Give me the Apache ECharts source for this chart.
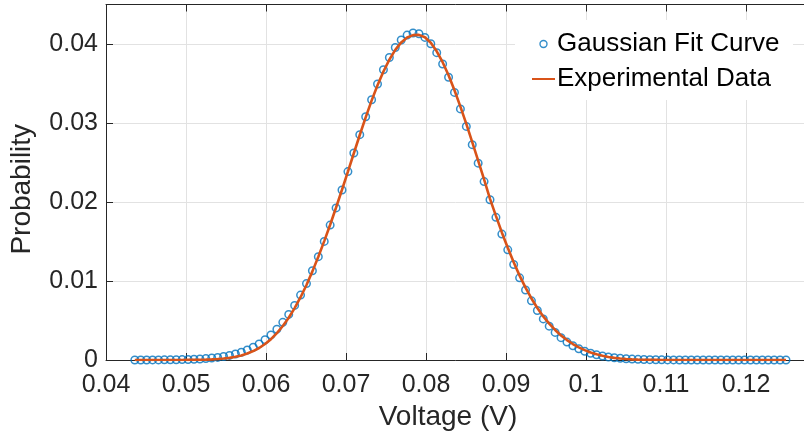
<!DOCTYPE html>
<html>
<head>
<meta charset="utf-8">
<script src="https://cdn.jsdelivr.net/npm/echarts@6/dist/echarts.min.js"></script>
<style>html,body{margin:0;padding:0;background:#fff;}#c{width:804px;height:438px;}</style>
</head>
<body>
<div id="c"></div>
<script>
var voltage = [0.04360,0.04434,0.04508,0.04582,0.04656,0.04730,0.04804,0.04878,0.04952,0.05026,
0.05100,0.05174,0.05248,0.05322,0.05396,0.05470,0.05544,0.05618,0.05692,0.05766,
0.05840,0.05914,0.05988,0.06062,0.06136,0.06210,0.06284,0.06358,0.06432,0.06506,
0.06580,0.06654,0.06728,0.06802,0.06876,0.06950,0.07024,0.07098,0.07172,0.07246,
0.07320,0.07394,0.07468,0.07542,0.07616,0.07690,0.07764,0.07838,0.07912,0.07986,
0.08060,0.08134,0.08208,0.08282,0.08356,0.08430,0.08504,0.08578,0.08652,0.08726,
0.08800,0.08874,0.08948,0.09022,0.09096,0.09170,0.09244,0.09318,0.09392,0.09466,
0.09540,0.09614,0.09688,0.09762,0.09836,0.09910,0.09984,0.10058,0.10132,0.10206,
0.10280,0.10354,0.10428,0.10502,0.10576,0.10650,0.10724,0.10798,0.10872,0.10946,
0.11020,0.11094,0.11168,0.11242,0.11316,0.11390,0.11464,0.11538,0.11612,0.11686,
0.11760,0.11834,0.11908,0.11982,0.12056,0.12130,0.12204,0.12278,0.12352,0.12426,
0.12500];

var gaussianFit = [0.000002,0.000004,0.000005,0.000008,0.000012,0.000017,0.000024,0.000035,0.000049,0.000069,
0.000096,0.000133,0.000182,0.000246,0.000330,0.000440,0.000581,0.000761,0.000986,0.001268,
0.001616,0.002041,0.002558,0.003175,0.003908,0.004765,0.005767,0.006914,0.008214,0.009675,
0.011302,0.013082,0.015012,0.017073,0.019255,0.021524,0.023851,0.026198,0.028525,0.030789,
0.032942,0.034937,0.036734,0.038287,0.039554,0.040510,0.041127,0.041391,0.041292,0.040837,
0.040034,0.038904,0.037475,0.035786,0.033873,0.031787,0.029568,0.027262,0.024919,0.022580,
0.020278,0.018059,0.015935,0.013944,0.012093,0.010396,0.008860,0.007485,0.006268,0.005204,
0.004281,0.003495,0.002826,0.002265,0.001799,0.001418,0.001107,0.000857,0.000657,0.000500,
0.000377,0.000282,0.000209,0.000153,0.000112,0.000081,0.000058,0.000041,0.000029,0.000020,
0.000014,0.000010,0.000006,0.000004,0.000003,0.000002,0.000001,0.000001,0.000001,0.000001,
0.000001,0,0,0,0,0,0,0,0,0,
0];

var experimental = [0,0,0,0,0,0,0,0,0,0.00001,
0.00002,0.00003,0.00005,0.00008,0.00012,0.00018,0.00027,0.00040,0.00058,0.00082,
0.00113,0.00152,0.00202,0.00264,0.00340,0.00430,0.00535,0.00657,0.00795,0.00950,
0.01122,0.01308,0.01505,0.01712,0.01930,0.02155,0.02385,0.02617,0.02848,0.03072,
0.03283,0.03478,0.03652,0.03802,0.03925,0.04020,0.04082,0.04112,0.04115,0.04085,
0.04015,0.03908,0.03770,0.03605,0.03415,0.03208,0.02988,0.02758,0.02525,0.02285,
0.02040,0.01825,0.01615,0.01420,0.01237,0.01068,0.00916,0.00779,0.00658,0.00552,
0.00460,0.00380,0.00311,0.00252,0.00202,0.00160,0.00125,0.00096,0.00073,0.00054,
0.00039,0.00027,0.00018,0.00012,0.00008,0.00005,0.00003,0.00002,0.00001,0,
0,0,0,0,0,0,0,0,0,0,
0,0,0,0,0,0,0,0,0,0,
0];

var xTicks = [0.04,0.05,0.06,0.07,0.08,0.09,0.1,0.11,0.12];
var yTicks = [0,0.01,0.02,0.03,0.04];
var seriesNames = ['Gaussian Fit Curve','Experimental Data'];

function pairs(xs, ys){ var out=[]; for (var i=0;i<xs.length;i++) out.push([xs[i], ys[i]]); return out; }
function tickFmt(list){ return function(v){ for (var i=0;i<list.length;i++) if (Math.abs(v-list[i])<1e-9) return String(list[i]); return ''; }; }

var FONT = '"Liberation Sans", Arial, Helvetica, sans-serif';
var TXT = '#262626';
var chart = echarts.init(document.getElementById('c'), null, {renderer:'canvas'});
chart.setOption({
  animation: false,
  backgroundColor: '#fff',
  textStyle: {fontFamily: FONT},
  grid: {left: 106, top: 4.5, width: 720, height: 355.5, containLabel: false, outerBoundsMode: 'none'},
  graphic: [{type:'rect', left: 515, top: 20, shape:{width: 278, height: 80}, style:{fill:'#fff'}, z: 1, silent: true}],
  legend: {
    data: [
      {name: seriesNames[0]},
      {name: seriesNames[1], itemStyle: {color: 'rgba(0,0,0,0)', borderWidth: 0, opacity: 0}}
    ],
    orient: 'vertical', left: 531, top: 31, padding: 0,
    itemWidth: 23, itemHeight: 7, itemGap: 9, selectedMode: false,
    itemStyle: {borderWidth: 1.4},
    textStyle: {fontSize: 26, color: '#000', fontFamily: FONT, padding: [0, 0, 0, -3]}
  },
  xAxis: [{
    type: 'value', min: 0.04, max: 0.13, interval: 0.01,
    name: 'Voltage (V)', nameLocation: 'middle', nameGap: 40,
    nameTextStyle: {fontSize: 28, color: TXT, fontFamily: FONT, padding: [0, 36, 0, 0]},
    axisLine: {show: true, onZero: false, lineStyle: {color: TXT, width: 1}},
    axisTick: {show: true, inside: true, length: 7, lineStyle: {color: TXT}},
    axisLabel: {fontSize: 25, color: TXT, margin: 13, fontFamily: FONT, formatter: tickFmt(xTicks)},
    splitLine: {show: true, lineStyle: {color: '#e2e2e2', width: 1}}
  },{
    type: 'value', position: 'top', min: 0.04, max: 0.13, interval: 0.01,
    axisLine: {show: true, onZero: false, lineStyle: {color: TXT, width: 1}},
    axisTick: {show: true, inside: true, length: 7, lineStyle: {color: TXT}},
    axisLabel: {show: false}, splitLine: {show: false}
  }],
  yAxis: {
    type: 'value', min: 0, max: 0.045, interval: 0.01,
    name: 'Probability', nameLocation: 'middle', nameGap: 70, nameRotate: 90,
    nameTextStyle: {fontSize: 28, color: TXT, fontFamily: FONT, padding: [0, 14, 0, 0]},
    axisLine: {show: true, lineStyle: {color: TXT, width: 1}},
    axisTick: {show: true, inside: true, length: 7, lineStyle: {color: TXT}},
    axisLabel: {fontSize: 25, color: TXT, margin: 8, fontFamily: FONT, showMaxLabel: false, formatter: tickFmt(yTicks)},
    splitLine: {show: true, lineStyle: {color: '#e2e2e2', width: 1}}
  },
  series: [{
    name: seriesNames[0], type: 'scatter', data: pairs(voltage, gaussianFit),
    symbol: 'circle', symbolSize: 7.5,
    itemStyle: {color: 'rgba(0,0,0,0)', borderColor: '#0072BD', borderWidth: 1.5},
    z: 2
  },{
    name: seriesNames[1], type: 'line', data: pairs(voltage, experimental),
    showSymbol: false, symbol: 'none', smooth: false,
    lineStyle: {color: '#D95319', width: 2.6}, itemStyle: {color: '#D95319'},
    z: 3
  }]
});
</script>
</body>
</html>
